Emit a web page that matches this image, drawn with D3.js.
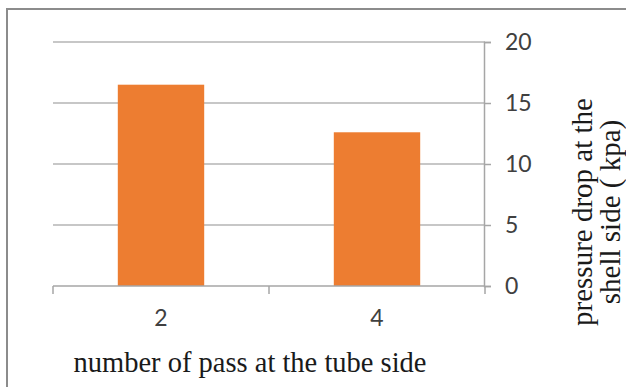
<!DOCTYPE html>
<html>
<head>
<meta charset="utf-8">
<script src="https://cdn.jsdelivr.net/npm/d3@7"></script>
<style>
  html, body { margin: 0; padding: 0; background: #fff; }
  svg { display: block; }
</style>
</head>
<body>
<svg id="chart" width="626" height="387"></svg>
<script>
// Pressure drop on the shell side versus number of tube-side passes
const categories = ["2", "4"];
const pressureDrop = [16.5, 12.6];
const yTicks = [0, 5, 10, 15, 20];
const xTitle = "number of pass at the tube side";
const yTitleLines = ["pressure drop at the", "shell side ( kpa)"];

const svg = d3.select("#chart");

// Frame around the chart area
svg.append("path")
  .attr("d", "M7,387 V9 H626")
  .attr("fill", "none")
  .attr("stroke", "#8c8c8c")
  .attr("stroke-width", 2);

const plot = { left: 53, right: 485, top: 42, bottom: 286 };

const x = d3.scaleBand()
  .domain(categories)
  .range([plot.left, plot.right])
  .paddingInner(0.6)
  .paddingOuter(0.3);

const y = d3.scaleLinear()
  .domain([0, 20])
  .range([plot.bottom, plot.top]);

// Horizontal gridlines
svg.append("g")
  .selectAll("line")
  .data(yTicks.filter(d => d > 0))
  .join("line")
  .attr("x1", plot.left)
  .attr("x2", plot.right)
  .attr("y1", d => y(d))
  .attr("y2", d => y(d))
  .attr("stroke", "#b4b4b4")
  .attr("stroke-width", 1.5);

// Bars
svg.append("g")
  .selectAll("rect")
  .data(pressureDrop)
  .join("rect")
  .attr("x", (d, i) => x(categories[i]))
  .attr("width", x.bandwidth())
  .attr("y", d => y(d))
  .attr("height", d => y(0) - y(d))
  .attr("fill", "#ED7D31");

// Right-hand value axis
const yAxis = svg.append("g")
  .attr("transform", `translate(${plot.right - 1},0)`)
  .call(d3.axisRight(y).tickValues(yTicks).tickSize(7).tickPadding(14).tickFormat(d3.format("d")));
yAxis.select(".domain").attr("stroke", "#a6a6a6").attr("stroke-width", 1.5);
yAxis.selectAll(".tick line").attr("stroke", "#a6a6a6").attr("stroke-width", 1.5);
yAxis.selectAll(".tick text")
  .attr("fill", "#404040")
  .attr("font-family", "Lato, 'Liberation Sans', sans-serif")
  .attr("font-size", 23);

// Category axis along the bottom; ticks sit on the band boundaries
const boundaries = [plot.left, ...categories.slice(1).map(c => x(c) - x.step() * x.paddingInner() / 2), plot.right];
const xAxisG = svg.append("g");
xAxisG.append("line")
  .attr("x1", plot.left)
  .attr("x2", plot.right)
  .attr("y1", y(0))
  .attr("y2", y(0))
  .attr("stroke", "#a6a6a6")
  .attr("stroke-width", 1.5);
xAxisG.selectAll("line.tick")
  .data(boundaries)
  .join("line")
  .attr("class", "tick")
  .attr("x1", d => d)
  .attr("x2", d => d)
  .attr("y1", y(0))
  .attr("y2", y(0) + 8)
  .attr("stroke", "#a6a6a6")
  .attr("stroke-width", 1.5);
xAxisG.selectAll("text")
  .data(categories)
  .join("text")
  .attr("x", d => x(d) + x.bandwidth() / 2)
  .attr("y", y(0) + 40)
  .attr("text-anchor", "middle")
  .attr("fill", "#404040")
  .attr("font-family", "Lato, 'Liberation Sans', sans-serif")
  .attr("font-size", 23)
  .text(d => d);

// Axis titles
svg.append("text")
  .attr("x", 250)
  .attr("y", 372)
  .attr("text-anchor", "middle")
  .attr("fill", "#1a1a1a")
  .attr("font-family", "'Liberation Serif', 'Times New Roman', serif")
  .attr("font-size", 28.5)
  .text(xTitle);

const yTitle = svg.append("text")
  .attr("transform", "translate(592,212) rotate(-90)")
  .attr("text-anchor", "middle")
  .attr("fill", "#1a1a1a")
  .attr("font-family", "'Liberation Serif', 'Times New Roman', serif")
  .attr("font-size", 29);
yTitle.selectAll("tspan")
  .data(yTitleLines)
  .join("tspan")
  .attr("x", 0)
  .attr("y", (d, i) => i * 28)
  .text(d => d);
</script>
</body>
</html>
